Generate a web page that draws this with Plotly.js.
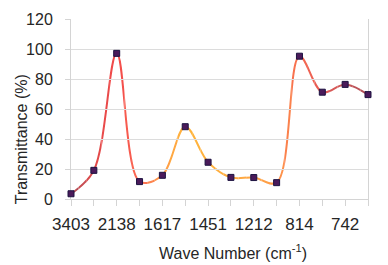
<!DOCTYPE html>
<html>
<head>
<meta charset="utf-8">
<script src="https://cdn.plot.ly/plotly-3.0.1.min.js"></script>
<style>
html,body{margin:0;padding:0;background:#fff;}
#chart{width:388px;height:265px;}
</style>
</head>
<body>
<div id="chart"></div>
<script>
// ---- data ----
var waveLabels = ['3403', '2138', '1617', '1451', '1212', '814', '742'];
var transmittance = [3.5, 19.1, 97.1, 11.6, 15.8, 48.2, 24.5, 14.4, 14.3, 10.9, 95.2, 71.2, 76.4, 69.6];

// ---- styles ----
var pointColors = ['#b0505a', '#e04a4a', '#f24a4a', '#fb6c54', '#ff9c48', '#ffb43c', '#ffb23e',
                   '#ffac42', '#ffa644', '#ff9a4a', '#f66a50', '#e65a55', '#c85858', '#b04e58'];
var subSteps = 3;

var idx = transmittance.map(function (v, i) { return i; });
var nSeg = transmittance.length - 1;

function hexToRgb(h) {
  return [parseInt(h.substr(1, 2), 16), parseInt(h.substr(3, 2), 16), parseInt(h.substr(5, 2), 16)];
}
function mix(a, b, t) {
  var A = hexToRgb(a), B = hexToRgb(b);
  return 'rgb(' + [0, 1, 2].map(function (k) { return Math.round(A[k] + (B[k] - A[k]) * t); }).join(',') + ')';
}

var fam = 'Liberation Sans, Arial, sans-serif';
var layout = {
  width: 388, height: 265,
  margin: {l: 71, r: 20, t: 19, b: 66},
  paper_bgcolor: '#ffffff', plot_bgcolor: 'rgba(0,0,0,0)',
  showlegend: false,
  xaxis: {
    range: [0, nSeg], anchor: 'y', domain: [0, 1],
    tickmode: 'array',
    tickvals: idx,
    ticktext: idx.map(function (i) { return i % 2 === 0 ? waveLabels[i / 2] : ' '; }),
    tickangle: 0,
    ticks: 'outside', ticklen: 6, tickcolor: '#d4d4d4', tickwidth: 1,
    showgrid: false, zeroline: false,
    showline: true, linecolor: '#d4d4d4', linewidth: 1,
    tickfont: {family: fam, size: 17, color: '#262626'},
    ticklabelstandoff: 4
  },
  yaxis: {
    range: [0, 120], anchor: 'x', domain: [0, 1],
    tickmode: 'linear', tick0: 0, dtick: 20,
    ticks: 'outside', ticklen: 5, tickcolor: '#d4d4d4', tickwidth: 1,
    showgrid: true, gridcolor: '#dcdcdc', gridwidth: 1,
    zeroline: false,
    showline: true, linecolor: '#d4d4d4', linewidth: 1, mirror: true,
    tickfont: {family: fam, size: 16, color: '#262626'},
    ticklabelstandoff: 9
  },
  annotations: [
    {text: 'Wave Number (cm<sup>-1</sup>)', xref: 'paper', yref: 'paper', x: 0.545, y: -0.293,
     xanchor: 'center', yanchor: 'middle', showarrow: false,
     font: {family: fam, size: 16, color: '#262626'}},
    {text: 'Transmittance (%)', xref: 'paper', yref: 'paper', x: -0.166, y: 0.33, textangle: -90,
     xanchor: 'center', yanchor: 'middle', showarrow: false,
     font: {family: fam, size: 16, color: '#262626'}}
  ]
};

// invisible trace on the main axes so that the main x axis is drawn
var traces = [{
  x: idx, y: transmittance, type: 'scatter', mode: 'lines',
  xaxis: 'x', yaxis: 'y', line: {color: 'rgba(0,0,0,0)', width: 0}, hoverinfo: 'skip'
}];

var nStrips = nSeg * subSteps;
for (var s = 0; s < nStrips; s++) {
  var axName = 'xaxis' + (s + 2);
  var seg = Math.floor(s / subSteps);
  var t = ((s % subSteps) + 0.5) / subSteps;
  var lo = s / subSteps, hi = (s + 1) / subSteps;
  layout[axName] = {domain: [lo / nSeg, hi / nSeg], range: [lo, hi], anchor: 'y', visible: false, fixedrange: true};
  traces.push({
    x: idx, y: transmittance, type: 'scatter', mode: 'lines',
    xaxis: 'x' + (s + 2), yaxis: 'y',
    line: {shape: 'spline', smoothing: 1, width: 2, color: mix(pointColors[seg], pointColors[seg + 1], t), simplify: false},
    hoverinfo: 'skip'
  });
}
// marker layer on its own full-width axis, created last so it sits on top
var mk = nStrips + 2;
layout['xaxis' + mk] = {domain: [0, 1], range: [0, nSeg], anchor: 'y', visible: false, fixedrange: true};
traces.push({
  x: idx, y: transmittance, type: 'scatter', mode: 'markers',
  xaxis: 'x' + mk, yaxis: 'y', cliponaxis: false,
  marker: {symbol: 'square', size: 6, color: '#4a1a5a', line: {color: '#1c1240', width: 1}}
});

Plotly.newPlot('chart', traces, layout, {staticPlot: true, displayModeBar: false});
</script>
</body>
</html>
